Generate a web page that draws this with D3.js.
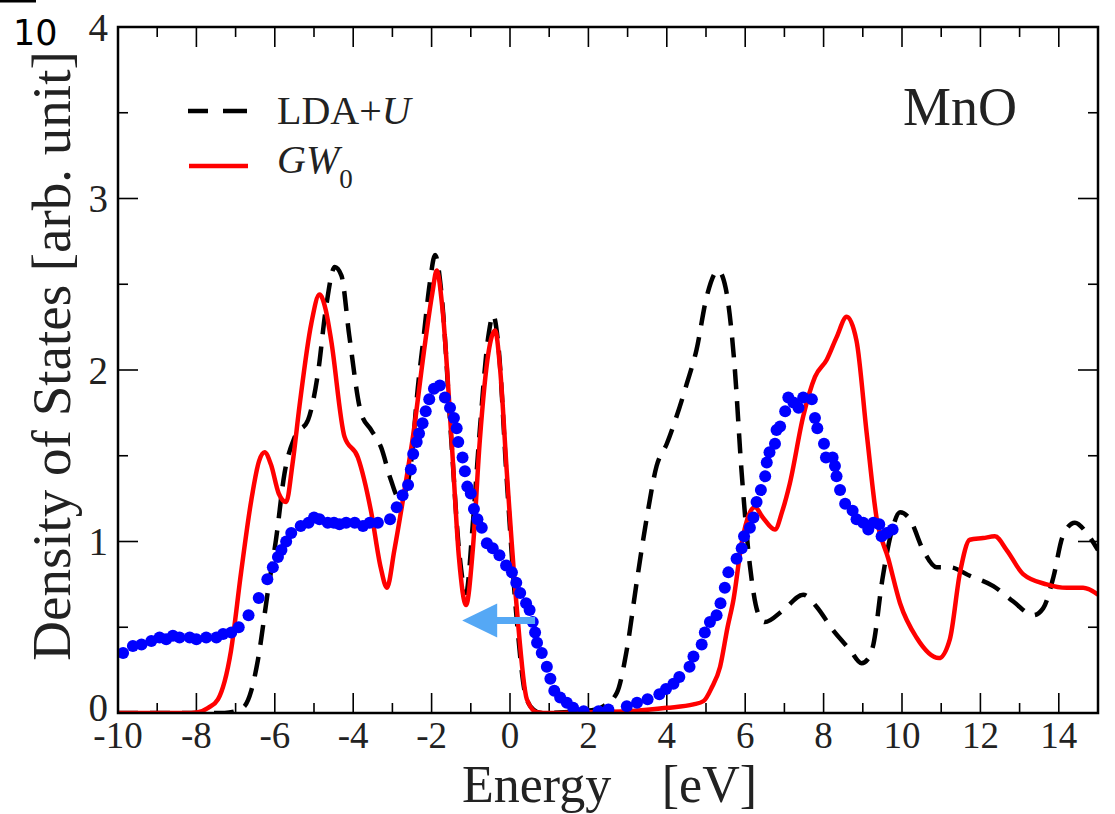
<!DOCTYPE html>
<html><head><meta charset="utf-8">
<script src="https://cdn.jsdelivr.net/npm/d3@7"></script>
<style>body{margin:0;background:#fff}svg{display:block}</style>
</head><body><svg id="c" width="1115" height="814"></svg>
<script>
// ---- data (Energy [eV], DOS [arb. unit]) ----
const ldaU = [[-10,0],[-7.5,0],[-7.28,0],[-7.0,0.01],[-6.77,0.04],[-6.6,0.13],[-6.43,0.31],[-6.17,0.72],[-5.97,1.01],[-5.75,1.40],[-5.49,1.61],[-5.15,1.71],[-4.9,1.98],[-4.69,2.37],[-4.47,2.60],[-4.3,2.55],[-4.1,2.2],[-3.8,1.75],[-3.54,1.65],[-3.29,1.55],[-3.04,1.36],[-2.85,1.26],[-2.7,1.28],[-2.53,1.45],[-2.35,1.9],[-2.2,2.2],[-2.05,2.5],[-1.91,2.67],[-1.75,2.45],[-1.5,1.6],[-1.3,0.95],[-1.12,0.70],[-0.95,1.1],[-0.77,1.65],[-0.55,2.2],[-0.43,2.32],[-0.3,2.15],[-0.08,1.35],[0.17,0.55],[0.4,0.1],[0.6,0.02],[0.8,0.0],[1.8,0.01],[2.2,0.02],[2.39,0.04],[2.73,0.12],[2.98,0.37],[3.23,0.76],[3.49,1.14],[3.74,1.44],[4.0,1.57],[4.25,1.73],[4.51,1.92],[4.76,2.12],[5.02,2.43],[5.31,2.58],[5.5,2.48],[5.72,2.05],[5.91,1.40],[6.12,0.86],[6.33,0.58],[6.5,0.53],[6.97,0.60],[7.48,0.69],[7.82,0.62],[8.25,0.48],[8.67,0.37],[8.97,0.29],[9.15,0.32],[9.27,0.40],[9.5,0.78],[9.75,1.07],[9.95,1.17],[10.2,1.13],[10.54,0.95],[10.88,0.85],[11.22,0.85],[11.73,0.80],[12.33,0.74],[12.84,0.65],[13.35,0.57],[13.6,0.61],[13.86,0.79],[14.1,1.03],[14.41,1.11],[14.71,1.05],[15.0,0.95]];

const gw0 = [[-10,0],[-8.3,0],[-7.96,0.005],[-7.7,0.03],[-7.45,0.08],[-7.12,0.36],[-6.86,0.82],[-6.6,1.24],[-6.4,1.47],[-6.26,1.52],[-6.1,1.45],[-5.9,1.28],[-5.71,1.23],[-5.55,1.45],[-5.37,1.79],[-5.07,2.27],[-4.86,2.44],[-4.7,2.35],[-4.56,2.17],[-4.22,1.61],[-3.88,1.49],[-3.54,1.17],[-3.3,0.85],[-3.14,0.73],[-2.95,0.95],[-2.69,1.30],[-2.47,1.62],[-2.2,2.1],[-1.98,2.45],[-1.87,2.58],[-1.72,2.35],[-1.49,1.59],[-1.3,0.9],[-1.12,0.63],[-0.95,0.95],[-0.77,1.59],[-0.55,2.1],[-0.38,2.23],[-0.25,2.0],[-0.08,1.40],[0.17,0.62],[0.43,0.08],[0.68,0.005],[1.0,0],[2.0,0.005],[3.0,0.01],[4.0,0.03],[4.68,0.05],[4.94,0.07],[5.15,0.15],[5.36,0.27],[5.55,0.5],[5.7,0.66],[5.91,0.99],[6.1,1.16],[6.25,1.2],[6.45,1.14],[6.76,1.07],[6.95,1.18],[7.14,1.34],[7.48,1.73],[7.78,1.96],[8.08,2.06],[8.33,2.19],[8.59,2.31],[8.84,2.17],[9.1,1.63],[9.35,1.14],[9.65,0.9],[9.95,0.64],[10.37,0.44],[10.94,0.32],[11.22,0.43],[11.48,0.82],[11.73,1.01],[12.07,1.02],[12.37,1.03],[12.67,0.95],[13.09,0.81],[13.69,0.75],[14.2,0.73],[14.62,0.73],[15.0,0.69]];

const experiment = [[-9.87,0.35],[-9.62,0.39],[-9.4,0.40],[-9.15,0.42],[-8.94,0.44],[-8.77,0.43],[-8.6,0.45],[-8.43,0.44],[-8.17,0.44],[-8.0,0.43],[-7.75,0.44],[-7.49,0.44],[-7.32,0.46],[-7.11,0.47],[-6.92,0.50],[-6.67,0.57],[-6.41,0.67],[-6.19,0.78],[-6.05,0.85],[-5.92,0.91],[-5.83,0.95],[-5.71,1.0],[-5.58,1.05],[-5.34,1.09],[-5.14,1.11],[-5.0,1.14],[-4.86,1.13],[-4.65,1.11],[-4.49,1.11],[-4.35,1.10],[-4.18,1.11],[-3.96,1.11],[-3.75,1.09],[-3.58,1.11],[-3.37,1.11],[-3.06,1.13],[-2.89,1.20],[-2.74,1.27],[-2.6,1.33],[-2.53,1.42],[-2.47,1.51],[-2.38,1.58],[-2.32,1.63],[-2.23,1.69],[-2.15,1.76],[-2.06,1.83],[-1.94,1.89],[-1.79,1.91],[-1.66,1.84],[-1.53,1.78],[-1.43,1.72],[-1.36,1.66],[-1.32,1.58],[-1.21,1.49],[-1.15,1.41],[-1.09,1.32],[-1.0,1.28],[-0.92,1.19],[-0.83,1.13],[-0.72,1.08],[-0.59,0.99],[-0.44,0.96],[-0.27,0.92],[-0.1,0.86],[0.05,0.82],[0.16,0.76],[0.26,0.70],[0.41,0.64],[0.5,0.60],[0.58,0.53],[0.64,0.47],[0.69,0.41],[0.81,0.35],[0.94,0.27],[1.03,0.20],[1.13,0.13],[1.28,0.09],[1.45,0.06],[1.61,0.03],[1.88,0.01],[2.26,0.01],[2.51,0.02],[2.98,0.04],[3.24,0.06],[3.51,0.08],[3.81,0.11],[3.98,0.14],[4.17,0.17],[4.32,0.21],[4.58,0.27],[4.68,0.33],[4.89,0.40],[4.97,0.47],[5.10,0.53],[5.27,0.57],[5.37,0.64],[5.48,0.73],[5.57,0.82],[5.78,0.90],[5.91,0.96],[5.97,1.03],[6.12,1.08],[6.21,1.14],[6.29,1.23],[6.40,1.30],[6.51,1.38],[6.55,1.46],[6.62,1.52],[6.76,1.57],[6.80,1.65],[6.89,1.67],[7.02,1.76],[7.10,1.84],[7.23,1.81],[7.36,1.78],[7.48,1.84],[7.70,1.83],[7.78,1.72],[7.84,1.66],[8.01,1.57],[8.06,1.49],[8.23,1.49],[8.29,1.44],[8.33,1.38],[8.42,1.30],[8.55,1.22],[8.74,1.18],[8.84,1.13],[9.01,1.11],[9.14,1.07],[9.27,1.11],[9.42,1.10],[9.48,1.03],[9.61,1.05],[9.76,1.07]];

const xTickLabels = ["-10","-8","-6","-4","-2","0","2","4","6","8","10","12","14"];
const yTickLabels = ["0","1","2","3","4"];
const arrowFrom = [0.64, 0.54], arrowTo = [-1.22, 0.54];

// ---- layout ----
const svg = d3.select("#c");
const L = 118, T = 27, W = 980, H = 686;
const x = d3.scaleLinear().domain([-10, 15]).range([L, L + W]);
const y = d3.scaleLinear().domain([0, 4]).range([T + H, T]);
const serif = "'Liberation Serif','Times New Roman',serif";

svg.append("defs").append("clipPath").attr("id","clip")
  .append("rect").attr("x",L).attr("y",T).attr("width",W).attr("height",H);

// corner artefact
svg.append("line").attr("x1",0).attr("x2",36).attr("y1",1).attr("y2",1).attr("stroke","#000").attr("stroke-width",3);
svg.append("text").attr("x",13).attr("y",45).attr("font-family","'DejaVu Sans',sans-serif").attr("font-size",35).text("10");

// axes (ticks inward, all four sides)
const majX = d3.range(-10, 15, 2), minX = d3.range(-9, 15, 2);
const majY = [0,1,2,3,4], minY = [0.5,1.5,2.5,3.5];
const g = svg.append("g").attr("stroke","#000").attr("stroke-width",1.6);
[[majX,20],[minX,10]].forEach(([vals,len]) => {
  vals.forEach(v => {
    g.append("line").attr("x1",x(v)).attr("x2",x(v)).attr("y1",T+H).attr("y2",T+H-len);
    g.append("line").attr("x1",x(v)).attr("x2",x(v)).attr("y1",T).attr("y2",T+len);
  });
});
[[majY,20],[minY,10]].forEach(([vals,len]) => {
  vals.forEach(v => {
    g.append("line").attr("y1",y(v)).attr("y2",y(v)).attr("x1",L).attr("x2",L+len);
    g.append("line").attr("y1",y(v)).attr("y2",y(v)).attr("x1",L+W).attr("x2",L+W-len);
  });
});

// tick labels
svg.append("g").selectAll("text").data(xTickLabels).join("text")
  .attr("x", d => x(+d)).attr("y", 748).attr("text-anchor","middle")
  .attr("font-family", serif).attr("font-size", 37).attr("fill","#222").text(d => d);
svg.append("g").selectAll("text").data(yTickLabels).join("text")
  .attr("x", 108).attr("y", d => y(+d)).attr("dy", d => d === "0" ? "0.2em" : "0.35em").attr("text-anchor","end")
  .attr("font-family", serif).attr("font-size", 39).attr("fill","#222").text(d => d);

// axis titles
svg.append("text").attr("x",462).attr("y",802).attr("font-family",serif).attr("font-size",52).attr("fill","#222").text("Energy");
svg.append("text").attr("x",757).attr("y",802).attr("text-anchor","end").attr("font-family",serif).attr("font-size",52).attr("fill","#222").text("[eV]");
svg.append("text").attr("transform","translate(70,356) rotate(-90)").attr("text-anchor","middle")
  .attr("font-family",serif).attr("font-size",55).attr("fill","#222").text("Density of States [arb. unit]");

// curves
const line = d3.line().x(d => x(d[0])).y(d => y(d[1])).curve(d3.curveMonotoneX);
const plot = svg.append("g").attr("clip-path","url(#clip)");
plot.append("path").datum(ldaU).attr("d", line).attr("fill","none").attr("stroke","#000")
  .attr("stroke-width",4.5).attr("stroke-dasharray","20,12");
plot.append("path").datum(gw0).attr("d", line).attr("fill","none").attr("stroke","#ff0000")
  .attr("stroke-width",4.5);
plot.append("g").selectAll("circle").data(experiment).join("circle")
  .attr("cx", d => x(d[0])).attr("cy", d => y(d[1])).attr("r",6).attr("fill","#0000ff");

// arrow
const ax0 = x(arrowFrom[0]), ax1 = x(arrowTo[0]), ay = y(arrowFrom[1]);
const headLen = 35, headHalf = 17;
svg.append("line").attr("x1",ax0).attr("x2",ax1+headLen-2).attr("y1",ay).attr("y2",ay)
  .attr("stroke","#55a8f5").attr("stroke-width",7);
svg.append("path").attr("d",`M${ax1},${ay} L${ax1+headLen},${ay-headHalf} L${ax1+headLen},${ay+headHalf} Z`).attr("fill","#55a8f5");

// frame
svg.append("rect").attr("x",L).attr("y",T).attr("width",W).attr("height",H)
  .attr("fill","none").attr("stroke","#000").attr("stroke-width",2.5);

// legend
svg.append("line").attr("x1",188).attr("x2",247).attr("y1",111).attr("y2",111)
  .attr("stroke","#000").attr("stroke-width",4.5).attr("stroke-dasharray","20,15,24,10");
svg.append("line").attr("x1",189).attr("x2",248).attr("y1",166).attr("y2",166)
  .attr("stroke","#ff0000").attr("stroke-width",4.5);
const t1 = svg.append("text").attr("x",277).attr("y",124).attr("font-family",serif).attr("font-size",40).attr("fill","#222");
t1.append("tspan").text("LDA+");
t1.append("tspan").attr("font-style","italic").text("U");
const t2 = svg.append("text").attr("x",277).attr("y",173).attr("font-family",serif).attr("font-size",40).attr("fill","#222");
t2.append("tspan").attr("font-style","italic").text("GW");
t2.append("tspan").attr("font-size",27).attr("dy",15).text("0");

svg.append("text").attr("x",903).attr("y",125).attr("font-family",serif).attr("font-size",54).attr("fill","#222").text("MnO");
</script></body></html>
